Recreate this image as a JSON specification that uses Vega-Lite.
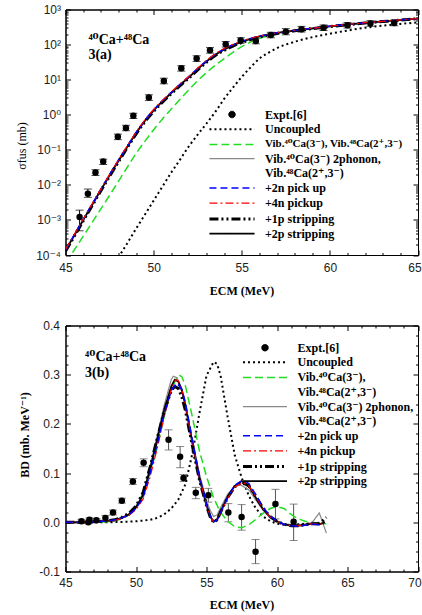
{
"$schema": "https://vega.github.io/schema/vega-lite/v6.json",
"background": "white",
"padding": {"left": 14.5, "top": 2.5, "right": 0, "bottom": 6},
"spacing": 70,
"bounds": "flush",
"config": {
  "font": "Liberation Serif, DejaVu Serif",
  "view": {"stroke": "black", "strokeWidth": 1},
  "axis": {"labelFont": "Liberation Sans, DejaVu Sans", "labelFontSize": 12, "labelColor": "#222", "titleFont": "Liberation Serif, DejaVu Serif", "titleFontSize": 12, "titleFontWeight": "bold", "titleColor": "black", "domainColor": "black", "domainWidth": 1, "tickColor": "black", "tickWidth": 1, "grid": false, "labelFlush": false, "labelOverlap": false}
},
"resolve": {"scale": {"color": "independent", "strokeDash": "independent", "strokeWidth": "independent"}, "legend": {"color": "independent", "strokeDash": "independent"}},
"datasets": {
"tp": [
{"E":45.8,"v":0.00122,"lo":0.00049,"hi":0.0019},
{"E":46.27,"v":0.0056,"lo":0.0044,"hi":0.0076},
{"E":46.7,"v":0.0224,"lo":0.0185,"hi":0.027},
{"E":47.14,"v":0.046,"lo":0.038,"hi":0.054},
{"E":47.97,"v":0.234,"lo":0.195,"hi":0.28},
{"E":48.43,"v":0.42,"lo":0.35,"hi":0.5},
{"E":48.85,"v":0.93,"lo":0.78,"hi":1.1},
{"E":49.73,"v":3.1,"lo":2.55,"hi":3.7},
{"E":50.58,"v":9.2,"lo":7.6,"hi":11},
{"E":51.57,"v":21,"lo":17.5,"hi":25},
{"E":52.44,"v":40,"lo":33,"hi":48},
{"E":53.2,"v":69,"lo":57,"hi":82},
{"E":54.09,"v":102,"lo":85,"hi":122},
{"E":54.94,"v":131,"lo":109,"hi":157},
{"E":55.8,"v":126,"lo":105,"hi":150},
{"E":56.65,"v":187,"lo":156,"hi":224},
{"E":57.5,"v":233,"lo":190,"hi":285},
{"E":58.39,"v":274,"lo":228,"hi":330},
{"E":59.64,"v":302,"lo":252,"hi":362},
{"E":61.0,"v":355,"lo":296,"hi":426},
{"E":62.3,"v":400,"lo":333,"hi":480},
{"E":63.65,"v":413,"lo":344,"hi":496}
],
"bp": [
{"E":46.13,"v":0.002,"lo":-0.002,"hi":0.006},
{"E":46.62,"v":0.0,"lo":-0.003,"hi":0.003},
{"E":46.7,"v":0.005,"lo":0.001,"hi":0.009},
{"E":47.19,"v":0.004,"lo":0.0,"hi":0.008},
{"E":47.83,"v":0.009,"lo":0.004,"hi":0.014},
{"E":48.37,"v":0.02,"lo":0.015,"hi":0.025},
{"E":49.0,"v":0.044,"lo":0.039,"hi":0.049},
{"E":49.78,"v":0.083,"lo":0.077,"hi":0.089},
{"E":50.54,"v":0.121,"lo":0.113,"hi":0.129},
{"E":52.31,"v":0.168,"lo":0.147,"hi":0.188},
{"E":53.13,"v":0.133,"lo":0.111,"hi":0.154},
{"E":53.37,"v":0.09,"lo":0.083,"hi":0.097},
{"E":54.24,"v":0.06,"lo":0.048,"hi":0.071},
{"E":55.13,"v":0.055,"lo":0.041,"hi":0.069},
{"E":56.55,"v":0.02,"lo":0.001,"hi":0.038},
{"E":57.49,"v":0.011,"lo":-0.016,"hi":0.036},
{"E":58.48,"v":-0.06,"lo":-0.084,"hi":-0.035},
{"E":59.89,"v":0.037,"lo":0.007,"hi":0.067},
{"E":61.18,"v":0.001,"lo":-0.037,"hi":0.037}
],
"tl": [
{"s":"uncoupled","E":48.15,"v":0.000112},{"s":"uncoupled","E":48.5,"v":0.000214},{"s":"uncoupled","E":49,"v":0.00056},{"s":"uncoupled","E":49.5,"v":0.0014},{"s":"uncoupled","E":50,"v":0.00355},{"s":"uncoupled","E":50.5,"v":0.0089},{"s":"uncoupled","E":51,"v":0.0224},{"s":"uncoupled","E":51.5,"v":0.0525},{"s":"uncoupled","E":52,"v":0.126},{"s":"uncoupled","E":52.5,"v":0.27},{"s":"uncoupled","E":53,"v":0.562},{"s":"uncoupled","E":53.5,"v":1.2},{"s":"uncoupled","E":54,"v":2.82},{"s":"uncoupled","E":54.5,"v":5.9},{"s":"uncoupled","E":55,"v":12},{"s":"uncoupled","E":55.5,"v":22.4},{"s":"uncoupled","E":56,"v":39.8},{"s":"uncoupled","E":56.5,"v":58},{"s":"uncoupled","E":57,"v":79.4},{"s":"uncoupled","E":58,"v":120},{"s":"uncoupled","E":59,"v":162},{"s":"uncoupled","E":60,"v":204},{"s":"uncoupled","E":61,"v":251},{"s":"uncoupled","E":62,"v":302},{"s":"uncoupled","E":63,"v":347},{"s":"uncoupled","E":64,"v":389},{"s":"uncoupled","E":65,"v":427},
{"s":"vib","E":45.4,"v":0.000117},{"s":"vib","E":46,"v":0.000339},{"s":"vib","E":46.5,"v":0.00083},{"s":"vib","E":47,"v":0.00204},{"s":"vib","E":47.5,"v":0.005},{"s":"vib","E":48,"v":0.0126},{"s":"vib","E":48.5,"v":0.0316},{"s":"vib","E":49,"v":0.0776},{"s":"vib","E":49.5,"v":0.174},{"s":"vib","E":50,"v":0.372},{"s":"vib","E":50.5,"v":0.759},{"s":"vib","E":51,"v":1.45},{"s":"vib","E":51.5,"v":2.75},{"s":"vib","E":52,"v":5.13},{"s":"vib","E":52.5,"v":9.33},{"s":"vib","E":53,"v":15.8},{"s":"vib","E":53.5,"v":25.7},{"s":"vib","E":54,"v":39.8},{"s":"vib","E":54.5,"v":60.3},{"s":"vib","E":55,"v":87.1},{"s":"vib","E":55.5,"v":117},{"s":"vib","E":56,"v":148},{"s":"vib","E":57,"v":200},{"s":"vib","E":58,"v":245},{"s":"vib","E":59,"v":285},{"s":"vib","E":60,"v":327},{"s":"vib","E":61,"v":367},{"s":"vib","E":62,"v":412},{"s":"vib","E":63,"v":452},{"s":"vib","E":64,"v":495},{"s":"vib","E":65,"v":543},
{"s":"phonon2","E":45,"v":0.000134},{"s":"phonon2","E":45.5,"v":0.00036},{"s":"phonon2","E":46,"v":0.00097},{"s":"phonon2","E":46.5,"v":0.0026},{"s":"phonon2","E":47,"v":0.007},{"s":"phonon2","E":47.5,"v":0.0184},{"s":"phonon2","E":48,"v":0.0474},{"s":"phonon2","E":48.5,"v":0.119},{"s":"phonon2","E":49,"v":0.292},{"s":"phonon2","E":49.5,"v":0.654},{"s":"phonon2","E":50,"v":1.31},{"s":"phonon2","E":50.5,"v":2.38},{"s":"phonon2","E":51,"v":4.13},{"s":"phonon2","E":51.5,"v":7.0},{"s":"phonon2","E":52,"v":11.6},{"s":"phonon2","E":52.5,"v":19.8},{"s":"phonon2","E":53,"v":32.7},{"s":"phonon2","E":53.5,"v":50.5},{"s":"phonon2","E":54,"v":71.3},{"s":"phonon2","E":54.5,"v":94},{"s":"phonon2","E":55,"v":119},{"s":"phonon2","E":55.5,"v":143.5},{"s":"phonon2","E":56,"v":168},{"s":"phonon2","E":57,"v":212},{"s":"phonon2","E":58,"v":249},{"s":"phonon2","E":59,"v":286},{"s":"phonon2","E":60,"v":328},{"s":"phonon2","E":61,"v":369},{"s":"phonon2","E":62,"v":414},{"s":"phonon2","E":63,"v":454},{"s":"phonon2","E":64,"v":498},{"s":"phonon2","E":65,"v":547},
{"s":"strip1p","E":45,"v":0.000128},{"s":"strip1p","E":45.5,"v":0.000345},{"s":"strip1p","E":46,"v":0.00093},{"s":"strip1p","E":46.5,"v":0.0025},{"s":"strip1p","E":47,"v":0.00673},{"s":"strip1p","E":47.5,"v":0.0177},{"s":"strip1p","E":48,"v":0.0455},{"s":"strip1p","E":48.5,"v":0.114},{"s":"strip1p","E":49,"v":0.28},{"s":"strip1p","E":49.5,"v":0.628},{"s":"strip1p","E":50,"v":1.25},{"s":"strip1p","E":50.5,"v":2.28},{"s":"strip1p","E":51,"v":3.96},{"s":"strip1p","E":51.5,"v":6.73},{"s":"strip1p","E":52,"v":11.1},{"s":"strip1p","E":52.5,"v":19},{"s":"strip1p","E":53,"v":31.4},{"s":"strip1p","E":53.5,"v":48.5},{"s":"strip1p","E":54,"v":68.4},{"s":"strip1p","E":54.5,"v":90.3},{"s":"strip1p","E":55,"v":114},{"s":"strip1p","E":55.5,"v":138},{"s":"strip1p","E":56,"v":163},{"s":"strip1p","E":57,"v":207},{"s":"strip1p","E":58,"v":247},{"s":"strip1p","E":59,"v":284},{"s":"strip1p","E":60,"v":326},{"s":"strip1p","E":61,"v":367},{"s":"strip1p","E":62,"v":412},{"s":"strip1p","E":63,"v":452},{"s":"strip1p","E":64,"v":496},{"s":"strip1p","E":65,"v":545},
{"s":"strip2p","E":45,"v":0.000135},{"s":"strip2p","E":45.5,"v":0.000363},{"s":"strip2p","E":46,"v":0.00098},{"s":"strip2p","E":46.5,"v":0.00263},{"s":"strip2p","E":47,"v":0.00708},{"s":"strip2p","E":47.5,"v":0.0186},{"s":"strip2p","E":48,"v":0.0479},{"s":"strip2p","E":48.5,"v":0.12},{"s":"strip2p","E":49,"v":0.295},{"s":"strip2p","E":49.5,"v":0.661},{"s":"strip2p","E":50,"v":1.32},{"s":"strip2p","E":50.5,"v":2.4},{"s":"strip2p","E":51,"v":4.17},{"s":"strip2p","E":51.5,"v":7.08},{"s":"strip2p","E":52,"v":11.7},{"s":"strip2p","E":52.5,"v":20},{"s":"strip2p","E":53,"v":33},{"s":"strip2p","E":53.5,"v":51},{"s":"strip2p","E":54,"v":72},{"s":"strip2p","E":54.5,"v":95},{"s":"strip2p","E":55,"v":120},{"s":"strip2p","E":55.5,"v":145},{"s":"strip2p","E":56,"v":170},{"s":"strip2p","E":57,"v":214},{"s":"strip2p","E":58,"v":251},{"s":"strip2p","E":59,"v":288},{"s":"strip2p","E":60,"v":331},{"s":"strip2p","E":61,"v":372},{"s":"strip2p","E":62,"v":417},{"s":"strip2p","E":63,"v":457},{"s":"strip2p","E":64,"v":501},{"s":"strip2p","E":65,"v":550},
{"s":"pick2n","E":45,"v":0.00014},{"s":"pick2n","E":45.5,"v":0.000378},{"s":"pick2n","E":46,"v":0.00102},{"s":"pick2n","E":46.5,"v":0.00274},{"s":"pick2n","E":47,"v":0.00736},{"s":"pick2n","E":47.5,"v":0.0193},{"s":"pick2n","E":48,"v":0.0498},{"s":"pick2n","E":48.5,"v":0.125},{"s":"pick2n","E":49,"v":0.307},{"s":"pick2n","E":49.5,"v":0.687},{"s":"pick2n","E":50,"v":1.37},{"s":"pick2n","E":50.5,"v":2.5},{"s":"pick2n","E":51,"v":4.34},{"s":"pick2n","E":51.5,"v":7.36},{"s":"pick2n","E":52,"v":12.2},{"s":"pick2n","E":52.5,"v":20.8},{"s":"pick2n","E":53,"v":34.3},{"s":"pick2n","E":53.5,"v":53},{"s":"pick2n","E":54,"v":74.9},{"s":"pick2n","E":54.5,"v":98.8},{"s":"pick2n","E":55,"v":124},{"s":"pick2n","E":55.5,"v":149},{"s":"pick2n","E":56,"v":173},{"s":"pick2n","E":57,"v":216},{"s":"pick2n","E":58,"v":253},{"s":"pick2n","E":59,"v":290},{"s":"pick2n","E":60,"v":333},{"s":"pick2n","E":61,"v":374},{"s":"pick2n","E":62,"v":419},{"s":"pick2n","E":63,"v":459},{"s":"pick2n","E":64,"v":503},{"s":"pick2n","E":65,"v":552},
{"s":"pick4n","E":45,"v":0.000144},{"s":"pick4n","E":45.5,"v":0.000388},{"s":"pick4n","E":46,"v":0.00105},{"s":"pick4n","E":46.5,"v":0.00281},{"s":"pick4n","E":47,"v":0.00758},{"s":"pick4n","E":47.5,"v":0.0199},{"s":"pick4n","E":48,"v":0.0513},{"s":"pick4n","E":48.5,"v":0.128},{"s":"pick4n","E":49,"v":0.316},{"s":"pick4n","E":49.5,"v":0.707},{"s":"pick4n","E":50,"v":1.41},{"s":"pick4n","E":50.5,"v":2.57},{"s":"pick4n","E":51,"v":4.46},{"s":"pick4n","E":51.5,"v":7.58},{"s":"pick4n","E":52,"v":12.5},{"s":"pick4n","E":52.5,"v":21.4},{"s":"pick4n","E":53,"v":35.3},{"s":"pick4n","E":53.5,"v":54.6},{"s":"pick4n","E":54,"v":77},{"s":"pick4n","E":54.5,"v":101},{"s":"pick4n","E":55,"v":126},{"s":"pick4n","E":55.5,"v":150},{"s":"pick4n","E":56,"v":174},{"s":"pick4n","E":57,"v":217},{"s":"pick4n","E":58,"v":254},{"s":"pick4n","E":59,"v":291},{"s":"pick4n","E":60,"v":334},{"s":"pick4n","E":61,"v":375},{"s":"pick4n","E":62,"v":420},{"s":"pick4n","E":63,"v":460},{"s":"pick4n","E":64,"v":504},{"s":"pick4n","E":65,"v":553}
],
"bl": [
{"s":"uncoupled","E":45,"v":0},{"s":"uncoupled","E":47,"v":0},{"s":"uncoupled","E":49,"v":0.0005},{"s":"uncoupled","E":50,"v":0.002},{"s":"uncoupled","E":51,"v":0.005},{"s":"uncoupled","E":51.5,"v":0.009},{"s":"uncoupled","E":52,"v":0.016},{"s":"uncoupled","E":52.5,"v":0.028},{"s":"uncoupled","E":53,"v":0.046},{"s":"uncoupled","E":53.5,"v":0.077},{"s":"uncoupled","E":54,"v":0.14},{"s":"uncoupled","E":54.5,"v":0.222},{"s":"uncoupled","E":55,"v":0.298},{"s":"uncoupled","E":55.5,"v":0.326},{"s":"uncoupled","E":55.75,"v":0.322},{"s":"uncoupled","E":56,"v":0.298},{"s":"uncoupled","E":56.5,"v":0.214},{"s":"uncoupled","E":57,"v":0.137},{"s":"uncoupled","E":57.5,"v":0.09},{"s":"uncoupled","E":58,"v":0.054},{"s":"uncoupled","E":58.5,"v":0.028},{"s":"uncoupled","E":59,"v":0.012},{"s":"uncoupled","E":59.5,"v":0.003},{"s":"uncoupled","E":60,"v":-0.003},{"s":"uncoupled","E":60.5,"v":-0.005},{"s":"uncoupled","E":61,"v":-0.005},{"s":"uncoupled","E":62,"v":-0.003},{"s":"uncoupled","E":63,"v":-0.001},{"s":"uncoupled","E":63.5,"v":0},
{"s":"vib","E":45,"v":0},{"s":"vib","E":47,"v":0},{"s":"vib","E":48,"v":0.001},{"s":"vib","E":48.5,"v":0.003},{"s":"vib","E":49,"v":0.007},{"s":"vib","E":49.5,"v":0.015},{"s":"vib","E":50,"v":0.031},{"s":"vib","E":50.5,"v":0.06},{"s":"vib","E":51,"v":0.1},{"s":"vib","E":51.5,"v":0.152},{"s":"vib","E":52,"v":0.215},{"s":"vib","E":52.5,"v":0.27},{"s":"vib","E":53,"v":0.3},{"s":"vib","E":53.25,"v":0.296},{"s":"vib","E":53.5,"v":0.278},{"s":"vib","E":54,"v":0.214},{"s":"vib","E":54.5,"v":0.145},{"s":"vib","E":55,"v":0.093},{"s":"vib","E":55.5,"v":0.05},{"s":"vib","E":56,"v":0.02},{"s":"vib","E":56.5,"v":0.002},{"s":"vib","E":57,"v":-0.009},{"s":"vib","E":57.5,"v":-0.011},{"s":"vib","E":58,"v":-0.005},{"s":"vib","E":58.5,"v":0.006},{"s":"vib","E":59,"v":0.018},{"s":"vib","E":59.5,"v":0.028},{"s":"vib","E":60,"v":0.032},{"s":"vib","E":60.5,"v":0.028},{"s":"vib","E":61,"v":0.016},{"s":"vib","E":61.5,"v":0.007},{"s":"vib","E":62,"v":0.002},{"s":"vib","E":62.5,"v":0},{"s":"vib","E":63,"v":-0.002},{"s":"vib","E":63.5,"v":-0.003},
{"s":"phonon2","E":45,"v":0},{"s":"phonon2","E":46,"v":0},{"s":"phonon2","E":47,"v":0.001},{"s":"phonon2","E":47.5,"v":0.002},{"s":"phonon2","E":48,"v":0.003},{"s":"phonon2","E":48.5,"v":0.005},{"s":"phonon2","E":49,"v":0.009},{"s":"phonon2","E":49.5,"v":0.017},{"s":"phonon2","E":50,"v":0.032},{"s":"phonon2","E":50.5,"v":0.058},{"s":"phonon2","E":51,"v":0.113},{"s":"phonon2","E":51.5,"v":0.175},{"s":"phonon2","E":52,"v":0.238},{"s":"phonon2","E":52.5,"v":0.29},{"s":"phonon2","E":52.65,"v":0.297},{"s":"phonon2","E":52.9,"v":0.294},{"s":"phonon2","E":53.25,"v":0.272},{"s":"phonon2","E":53.5,"v":0.243},{"s":"phonon2","E":54,"v":0.168},{"s":"phonon2","E":54.5,"v":0.098},{"s":"phonon2","E":55,"v":0.045},{"s":"phonon2","E":55.25,"v":0.025},{"s":"phonon2","E":55.5,"v":0.012},{"s":"phonon2","E":55.75,"v":0.015},{"s":"phonon2","E":56,"v":0.03},{"s":"phonon2","E":56.5,"v":0.057},{"s":"phonon2","E":57,"v":0.073},{"s":"phonon2","E":57.4,"v":0.076},{"s":"phonon2","E":58,"v":0.066},{"s":"phonon2","E":58.5,"v":0.045},{"s":"phonon2","E":59,"v":0.025},{"s":"phonon2","E":59.5,"v":0.01},{"s":"phonon2","E":60,"v":0.002},{"s":"phonon2","E":60.5,"v":-0.004},{"s":"phonon2","E":61,"v":-0.006},{"s":"phonon2","E":61.5,"v":-0.006},{"s":"phonon2","E":62,"v":-0.004},{"s":"phonon2","E":62.5,"v":0.0},{"s":"phonon2","E":63,"v":0.019},{"s":"phonon2","E":63.5,"v":-0.022},
{"s":"strip1p","E":45,"v":0},{"s":"strip1p","E":46,"v":0},{"s":"strip1p","E":47,"v":0.001},{"s":"strip1p","E":47.5,"v":0.002},{"s":"strip1p","E":48,"v":0.003},{"s":"strip1p","E":48.5,"v":0.005},{"s":"strip1p","E":49,"v":0.01},{"s":"strip1p","E":49.5,"v":0.018},{"s":"strip1p","E":50,"v":0.033},{"s":"strip1p","E":50.5,"v":0.06},{"s":"strip1p","E":51,"v":0.112},{"s":"strip1p","E":51.5,"v":0.17},{"s":"strip1p","E":52,"v":0.225},{"s":"strip1p","E":52.5,"v":0.268},{"s":"strip1p","E":52.75,"v":0.276},{"s":"strip1p","E":53,"v":0.272},{"s":"strip1p","E":53.25,"v":0.255},{"s":"strip1p","E":53.5,"v":0.228},{"s":"strip1p","E":54,"v":0.155},{"s":"strip1p","E":54.5,"v":0.086},{"s":"strip1p","E":55,"v":0.034},{"s":"strip1p","E":55.25,"v":0.012},{"s":"strip1p","E":55.5,"v":0.0},{"s":"strip1p","E":55.75,"v":0.005},{"s":"strip1p","E":56,"v":0.021},{"s":"strip1p","E":56.5,"v":0.05},{"s":"strip1p","E":57,"v":0.072},{"s":"strip1p","E":57.5,"v":0.082},{"s":"strip1p","E":58,"v":0.074},{"s":"strip1p","E":58.5,"v":0.052},{"s":"strip1p","E":59,"v":0.029},{"s":"strip1p","E":59.5,"v":0.012},{"s":"strip1p","E":60,"v":0.002},{"s":"strip1p","E":60.5,"v":-0.004},{"s":"strip1p","E":61,"v":-0.007},{"s":"strip1p","E":61.5,"v":-0.007},{"s":"strip1p","E":62,"v":-0.005},{"s":"strip1p","E":62.5,"v":-0.003},{"s":"strip1p","E":63,"v":-0.003},{"s":"strip1p","E":63.5,"v":0.01},
{"s":"strip2p","E":45,"v":0},{"s":"strip2p","E":46,"v":0},{"s":"strip2p","E":47,"v":0.001},{"s":"strip2p","E":47.5,"v":0.002},{"s":"strip2p","E":48,"v":0.003},{"s":"strip2p","E":48.5,"v":0.005},{"s":"strip2p","E":49,"v":0.009},{"s":"strip2p","E":49.5,"v":0.016},{"s":"strip2p","E":50,"v":0.03},{"s":"strip2p","E":50.5,"v":0.055},{"s":"strip2p","E":51,"v":0.108},{"s":"strip2p","E":51.5,"v":0.168},{"s":"strip2p","E":52,"v":0.228},{"s":"strip2p","E":52.5,"v":0.276},{"s":"strip2p","E":52.75,"v":0.29},{"s":"strip2p","E":53,"v":0.286},{"s":"strip2p","E":53.25,"v":0.268},{"s":"strip2p","E":53.5,"v":0.238},{"s":"strip2p","E":54,"v":0.16},{"s":"strip2p","E":54.5,"v":0.088},{"s":"strip2p","E":55,"v":0.035},{"s":"strip2p","E":55.25,"v":0.013},{"s":"strip2p","E":55.5,"v":0.001},{"s":"strip2p","E":55.75,"v":0.006},{"s":"strip2p","E":56,"v":0.022},{"s":"strip2p","E":56.5,"v":0.052},{"s":"strip2p","E":57,"v":0.074},{"s":"strip2p","E":57.5,"v":0.084},{"s":"strip2p","E":58,"v":0.074},{"s":"strip2p","E":58.5,"v":0.05},{"s":"strip2p","E":59,"v":0.027},{"s":"strip2p","E":59.5,"v":0.011},{"s":"strip2p","E":60,"v":0.002},{"s":"strip2p","E":60.5,"v":-0.004},{"s":"strip2p","E":61,"v":-0.007},{"s":"strip2p","E":61.5,"v":-0.007},{"s":"strip2p","E":62,"v":-0.005},{"s":"strip2p","E":62.5,"v":-0.003},{"s":"strip2p","E":63,"v":-0.004},{"s":"strip2p","E":63.4,"v":0},
{"s":"pick4n","E":45,"v":0},{"s":"pick4n","E":46,"v":0},{"s":"pick4n","E":47,"v":0.001},{"s":"pick4n","E":47.5,"v":0.002},{"s":"pick4n","E":48,"v":0.003},{"s":"pick4n","E":48.5,"v":0.004},{"s":"pick4n","E":49,"v":0.008},{"s":"pick4n","E":49.5,"v":0.014},{"s":"pick4n","E":50,"v":0.026},{"s":"pick4n","E":50.5,"v":0.047},{"s":"pick4n","E":51,"v":0.092},{"s":"pick4n","E":51.5,"v":0.15},{"s":"pick4n","E":52,"v":0.215},{"s":"pick4n","E":52.5,"v":0.27},{"s":"pick4n","E":52.8,"v":0.29},{"s":"pick4n","E":53,"v":0.288},{"s":"pick4n","E":53.25,"v":0.27},{"s":"pick4n","E":53.5,"v":0.24},{"s":"pick4n","E":54,"v":0.163},{"s":"pick4n","E":54.5,"v":0.09},{"s":"pick4n","E":55,"v":0.035},{"s":"pick4n","E":55.25,"v":0.013},{"s":"pick4n","E":55.5,"v":0.001},{"s":"pick4n","E":55.75,"v":0.005},{"s":"pick4n","E":56,"v":0.02},{"s":"pick4n","E":56.5,"v":0.049},{"s":"pick4n","E":57,"v":0.072},{"s":"pick4n","E":57.6,"v":0.081},{"s":"pick4n","E":58,"v":0.074},{"s":"pick4n","E":58.5,"v":0.052},{"s":"pick4n","E":59,"v":0.028},{"s":"pick4n","E":59.5,"v":0.011},{"s":"pick4n","E":60,"v":0.002},{"s":"pick4n","E":60.5,"v":-0.004},{"s":"pick4n","E":61,"v":-0.007},{"s":"pick4n","E":61.5,"v":-0.007},{"s":"pick4n","E":62,"v":-0.005},{"s":"pick4n","E":62.5,"v":-0.003},{"s":"pick4n","E":63,"v":-0.004},{"s":"pick4n","E":63.3,"v":-0.003},
{"s":"pick2n","E":45,"v":0},{"s":"pick2n","E":46,"v":0},{"s":"pick2n","E":47,"v":0.001},{"s":"pick2n","E":47.5,"v":0.002},{"s":"pick2n","E":48,"v":0.003},{"s":"pick2n","E":48.5,"v":0.005},{"s":"pick2n","E":49,"v":0.009},{"s":"pick2n","E":49.5,"v":0.015},{"s":"pick2n","E":50,"v":0.028},{"s":"pick2n","E":50.5,"v":0.05},{"s":"pick2n","E":51,"v":0.1},{"s":"pick2n","E":51.5,"v":0.158},{"s":"pick2n","E":52,"v":0.22},{"s":"pick2n","E":52.5,"v":0.268},{"s":"pick2n","E":52.9,"v":0.283},{"s":"pick2n","E":53.25,"v":0.27},{"s":"pick2n","E":53.5,"v":0.244},{"s":"pick2n","E":54,"v":0.168},{"s":"pick2n","E":54.5,"v":0.094},{"s":"pick2n","E":55,"v":0.037},{"s":"pick2n","E":55.25,"v":0.014},{"s":"pick2n","E":55.5,"v":0.001},{"s":"pick2n","E":55.75,"v":0.004},{"s":"pick2n","E":56,"v":0.02},{"s":"pick2n","E":56.5,"v":0.05},{"s":"pick2n","E":57,"v":0.075},{"s":"pick2n","E":57.6,"v":0.086},{"s":"pick2n","E":58,"v":0.079},{"s":"pick2n","E":58.5,"v":0.056},{"s":"pick2n","E":59,"v":0.031},{"s":"pick2n","E":59.5,"v":0.013},{"s":"pick2n","E":60,"v":0.002},{"s":"pick2n","E":60.5,"v":-0.004},{"s":"pick2n","E":61,"v":-0.007},{"s":"pick2n","E":61.5,"v":-0.008},{"s":"pick2n","E":62,"v":-0.006},{"s":"pick2n","E":62.5,"v":-0.004},{"s":"pick2n","E":63,"v":-0.005},{"s":"pick2n","E":63.3,"v":-0.004}
]
},
"vconcat": [
{
  "width": 352.5,
  "height": 245.5,
  "resolve": {"axis": {"x": "independent", "y": "independent"}},
  "layer": [
    {
      "data": {"name": "tp"},
      "mark": {"type": "rule", "color": "black", "strokeWidth": 1},
      "encoding": {
        "x": {"field": "E", "type": "quantitative", "scale": {"domain": [45, 65], "nice": false, "zero": false},
          "axis": {"orient": "bottom", "values": [45,46,47,48,49,50,51,52,53,54,55,56,57,58,59,60,61,62,63,64,65],
            "labelExpr": "datum.value % 5 === 0 ? datum.label : ''",
            "tickSize": {"condition": {"test": "datum.value % 5 === 0", "value": -5}, "value": -2.5},
            "labelOffset": {"condition": {"test": "datum.value === 65", "value": -3.5}, "value": 0},
            "labelPadding": 12.5, "title": "ECM (MeV)", "titleX": 176, "titleY": 35.5, "titleBaseline": "middle"}},
        "y": {"field": "lo", "type": "quantitative", "scale": {"type": "log", "domain": [0.0001, 1000], "nice": false},
          "axis": {"orient": "left", "values": [0.0001,0.0002,0.0003,0.0004,0.0005,0.0006,0.0007,0.0008,0.0009,0.001,0.002,0.003,0.004,0.005,0.006,0.007,0.008,0.009,0.01,0.02,0.03,0.04,0.05,0.06,0.07,0.08,0.09,0.1,0.2,0.3,0.4,0.5,0.6,0.7,0.8,0.9,1,2,3,4,5,6,7,8,9,10,20,30,40,50,60,70,80,90,100,200,300,400,500,600,700,800,900,1000],
            "labelExpr": "abs(log(datum.value)/LN10-round(log(datum.value)/LN10))>0.001?'':round(log(datum.value)/LN10)==-4?'10⁻⁴':round(log(datum.value)/LN10)==-3?'10⁻³':round(log(datum.value)/LN10)==-2?'10⁻²':round(log(datum.value)/LN10)==-1?'10⁻¹':round(log(datum.value)/LN10)==0?'10⁰':round(log(datum.value)/LN10)==1?'10¹':round(log(datum.value)/LN10)==2?'10²':'10³'",
            "tickSize": {"condition": {"test": "abs(log(datum.value)/LN10-round(log(datum.value)/LN10))<0.001", "value": -5}, "value": -2.5},
            "labelPadding": 10, "title": "σfus (mb)", "titleFontWeight": "normal", "titleX": -44, "titleY": 136, "titleBaseline": "middle"}},
        "y2": {"field": "hi"}
      }
    },
    {
      "data": {"name": "tp"},
      "mark": {"type": "tick", "orient": "horizontal", "size": 8, "thickness": 1, "color": "black"},
      "encoding": {
        "x": {"field": "E", "type": "quantitative", "axis": null},
        "y": {"field": "lo", "type": "quantitative", "scale": {"type": "log", "domain": [0.0001, 1000], "nice": false}, "axis": null}
      }
    },
    {
      "data": {"name": "tp"},
      "mark": {"type": "tick", "orient": "horizontal", "size": 8, "thickness": 1, "color": "black"},
      "encoding": {
        "x": {"field": "E", "type": "quantitative", "axis": null},
        "y": {"field": "hi", "type": "quantitative", "scale": {"type": "log", "domain": [0.0001, 1000], "nice": false}, "axis": null}
      }
    },
    {
      "data": {"name": "tl"},
      "mark": {"type": "line", "clip": true, "interpolate": "monotone", "strokeCap": "butt"},
      "encoding": {
        "x": {"field": "E", "type": "quantitative", "scale": {"domain": [45, 65], "nice": false, "zero": false}, "axis": null},
        "y": {"field": "v", "type": "quantitative", "scale": {"type": "log", "domain": [0.0001, 1000], "nice": false}, "axis": null},
        "color": {"field": "s", "type": "nominal",
          "scale": {"domain": ["expt","uncoupled","vib","vib_l2","phonon2","phonon2_l2","pick2n","pick4n","strip1p","strip2p"],
                    "range": ["black","black","#22dd22","transparent","#888888","transparent","#0000ff","#ff0000","black","black"]},
          "legend": {"orient": "none", "legendX": 159.5, "legendY": 99, "title": null, "padding": 0,
            "values": ["expt","uncoupled","vib","phonon2","phonon2_l2","pick2n","pick4n","strip1p","strip2p"],
            "symbolType": "M-4.1,0H4.1", "symbolSize": 121, "symbolStrokeWidth": 1.5, "symbolFillColor": "transparent",
            "labelFont": "Liberation Serif, DejaVu Serif", "labelFontWeight": "bold", "labelFontSize": 12, "labelColor": "black", "labelLimit": 400, "labelOffset": 26, "rowPadding": 2.2,
            "labelExpr": "datum.value==='expt'?'Expt.[6]':datum.value==='uncoupled'?'Uncoupled':datum.value==='vib'?'Vib.⁴⁰Ca(3⁻), Vib.⁴⁸Ca(2⁺,3⁻)':datum.value==='phonon2'?'Vib.⁴⁰Ca(3⁻) 2phonon,':datum.value==='phonon2_l2'?'\u00a0Vib.⁴⁸Ca(2⁺,3⁻)':datum.value==='pick2n'?'+2n pick up':datum.value==='pick4n'?'+4n pickup':datum.value==='strip1p'?'+1p stripping':'+2p stripping'",
            "encode": {
              "labels": {"update": {"fontSize": {"signal": "datum.value==='vib'?11:12"}}},
              "symbols": {"update": {
              "shape": {"signal": "datum.value==='expt'?'circle':'M-4.1,0H4.1'"},
              "size": {"signal": "datum.value==='expt'?42:121"},
              "fill": {"signal": "datum.value==='expt'?'black':'transparent'"},
              "strokeWidth": {"signal": "datum.value==='expt'?0:datum.value==='strip1p'?3:datum.value==='strip2p'?1.8:datum.value==='uncoupled'?2:(datum.value==='phonon2'||datum.value==='pick4n')?1.2:1.5"}
            }}}
          }},
        "strokeDash": {"field": "s", "type": "nominal",
          "scale": {"domain": ["expt","uncoupled","vib","vib_l2","phonon2","phonon2_l2","pick2n","pick4n","strip1p","strip2p"],
                    "range": [[1,0],[2,3],[8,4],[1,0],[1,0],[1,0],[7,4],[8,3,2,3],[9,3,2,3,2,3],[1,0]]},
          "legend": {"orient": "none", "legendX": 159.5, "legendY": 99, "title": null, "padding": 0,
            "values": ["expt","uncoupled","vib","phonon2","phonon2_l2","pick2n","pick4n","strip1p","strip2p"],
            "symbolType": "M-4.1,0H4.1", "symbolSize": 121, "symbolStrokeWidth": 1.5, "symbolFillColor": "transparent",
            "labelFont": "Liberation Serif, DejaVu Serif", "labelFontWeight": "bold", "labelFontSize": 12, "labelColor": "black", "labelLimit": 400, "labelOffset": 26, "rowPadding": 2.2,
            "labelExpr": "datum.value==='expt'?'Expt.[6]':datum.value==='uncoupled'?'Uncoupled':datum.value==='vib'?'Vib.⁴⁰Ca(3⁻), Vib.⁴⁸Ca(2⁺,3⁻)':datum.value==='phonon2'?'Vib.⁴⁰Ca(3⁻) 2phonon,':datum.value==='phonon2_l2'?'\u00a0Vib.⁴⁸Ca(2⁺,3⁻)':datum.value==='pick2n'?'+2n pick up':datum.value==='pick4n'?'+4n pickup':datum.value==='strip1p'?'+1p stripping':'+2p stripping'",
            "encode": {
              "labels": {"update": {"fontSize": {"signal": "datum.value==='vib'?11:12"}}},
              "symbols": {"update": {
              "shape": {"signal": "datum.value==='expt'?'circle':'M-4.1,0H4.1'"},
              "size": {"signal": "datum.value==='expt'?42:121"},
              "fill": {"signal": "datum.value==='expt'?'black':'transparent'"},
              "strokeWidth": {"signal": "datum.value==='expt'?0:datum.value==='strip1p'?3:datum.value==='strip2p'?1.8:datum.value==='uncoupled'?2:(datum.value==='phonon2'||datum.value==='pick4n')?1.2:1.5"}
            }}}
          }},
        "strokeWidth": {"field": "s", "type": "nominal",
          "scale": {"type": "ordinal", "domain": ["expt","uncoupled","vib","vib_l2","phonon2","phonon2_l2","pick2n","pick4n","strip1p","strip2p"],
                    "range": [1,2,1.5,1,1.2,1,1.5,1.2,3,1.8]},
          "legend": null}
      }
    },
    {
      "data": {"name": "tp"},
      "mark": {"type": "point", "filled": true, "shape": "circle", "size": 42, "color": "black", "opacity": 1},
      "encoding": {
        "x": {"field": "E", "type": "quantitative",
          "axis": {"orient": "top", "values": [45,46,47,48,49,50,51,52,53,54,55,56,57,58,59,60,61,62,63,64,65], "labels": false, "title": null,
            "tickSize": {"condition": {"test": "datum.value % 5 === 0", "value": -5}, "value": -2.5}}},
        "y": {"field": "v", "type": "quantitative", "scale": {"type": "log", "domain": [0.0001, 1000], "nice": false},
          "axis": {"orient": "right", "values": [0.0001,0.0002,0.0003,0.0004,0.0005,0.0006,0.0007,0.0008,0.0009,0.001,0.002,0.003,0.004,0.005,0.006,0.007,0.008,0.009,0.01,0.02,0.03,0.04,0.05,0.06,0.07,0.08,0.09,0.1,0.2,0.3,0.4,0.5,0.6,0.7,0.8,0.9,1,2,3,4,5,6,7,8,9,10,20,30,40,50,60,70,80,90,100,200,300,400,500,600,700,800,900,1000], "labels": false, "title": null,
            "tickSize": {"condition": {"test": "abs(log(datum.value)/LN10-round(log(datum.value)/LN10))<0.001", "value": -5}, "value": -2.5}}}
      }
    },
    {
      "data": {"values": [{}]},
      "mark": {"type": "text", "text": "⁴⁰Ca+⁴⁸Ca", "align": "left", "baseline": "alphabetic", "font": "Liberation Serif, DejaVu Serif", "fontWeight": "bold", "fontSize": 14, "color": "black"},
      "encoding": {
        "x": {"datum": 46.3, "type": "quantitative", "axis": null},
        "y": {"datum": 102, "type": "quantitative", "scale": {"type": "log", "domain": [0.0001, 1000], "nice": false}, "axis": null}
      }
    },
    {
      "data": {"values": [{}]},
      "mark": {"type": "text", "text": "3(a)", "align": "left", "baseline": "alphabetic", "font": "Liberation Serif, DejaVu Serif", "fontWeight": "bold", "fontSize": 14, "color": "black"},
      "encoding": {
        "x": {"datum": 46.3, "type": "quantitative", "axis": null},
        "y": {"datum": 38, "type": "quantitative", "scale": {"type": "log", "domain": [0.0001, 1000], "nice": false}, "axis": null}
      }
    }
  ]
},
{
  "width": 352.5,
  "height": 246,
  "resolve": {"axis": {"x": "independent", "y": "independent"}},
  "layer": [
    {
      "data": {"name": "bp"},
      "mark": {"type": "rule", "color": "#555555", "strokeWidth": 1},
      "encoding": {
        "x": {"field": "E", "type": "quantitative", "scale": {"domain": [45, 70], "nice": false, "zero": false},
          "axis": {"orient": "bottom", "values": [45,46,47,48,49,50,51,52,53,54,55,56,57,58,59,60,61,62,63,64,65,66,67,68,69,70],
            "labelExpr": "datum.value % 5 === 0 ? datum.label : ''",
            "tickSize": {"condition": {"test": "datum.value % 5 === 0", "value": -5}, "value": -2.5},
            "labelOffset": {"condition": {"test": "datum.value === 70", "value": -3.5}, "value": 0},
            "labelPadding": 11, "title": "ECM (MeV)", "titleX": 176, "titleY": 32.5, "titleBaseline": "middle"}},
        "y": {"field": "lo", "type": "quantitative", "scale": {"domain": [-0.1, 0.4], "nice": false, "zero": false},
          "axis": {"orient": "left", "values": [-0.1,-0.08,-0.06,-0.04,-0.02,0,0.02,0.04,0.06,0.08,0.1,0.12,0.14,0.16,0.18,0.2,0.22,0.24,0.26,0.28,0.3,0.32,0.34,0.36,0.38,0.4],
            "labelExpr": "abs(datum.value*10-round(datum.value*10))<0.001?replace(format(datum.value,'.1f'),'−','-'):''",
            "tickSize": {"condition": {"test": "abs(datum.value*10-round(datum.value*10))<0.001", "value": -5}, "value": -2.5},
            "labelPadding": 11, "title": "BD (mb. MeV⁻¹)", "titleX": -41.5, "titleY": 109, "titleBaseline": "middle"}},
        "y2": {"field": "hi"}
      }
    },
    {
      "data": {"name": "bp"},
      "mark": {"type": "tick", "orient": "horizontal", "size": 8, "thickness": 1, "color": "#555555"},
      "encoding": {
        "x": {"field": "E", "type": "quantitative", "axis": null},
        "y": {"field": "lo", "type": "quantitative", "axis": null}
      }
    },
    {
      "data": {"name": "bp"},
      "mark": {"type": "tick", "orient": "horizontal", "size": 8, "thickness": 1, "color": "#555555"},
      "encoding": {
        "x": {"field": "E", "type": "quantitative", "axis": null},
        "y": {"field": "hi", "type": "quantitative", "axis": null}
      }
    },
    {
      "data": {"name": "bl"},
      "mark": {"type": "line", "clip": true, "interpolate": "linear", "strokeCap": "butt"},
      "encoding": {
        "x": {"field": "E", "type": "quantitative", "scale": {"domain": [45, 70], "nice": false, "zero": false}, "axis": null},
        "y": {"field": "v", "type": "quantitative", "scale": {"domain": [-0.1, 0.4], "nice": false, "zero": false}, "axis": null},
        "color": {"field": "s", "type": "nominal",
          "scale": {"domain": ["expt","uncoupled","vib","vib_l2","phonon2","phonon2_l2","pick2n","pick4n","strip1p","strip2p"],
                    "range": ["black","black","#22dd22","transparent","#888888","transparent","#0000ff","#ff0000","black","black"]},
          "legend": {"orient": "none", "legendX": 192.5, "legendY": 16.2, "title": null, "padding": 0,
            "values": ["expt","uncoupled","vib","vib_l2","phonon2","phonon2_l2","pick2n","pick4n","strip1p","strip2p"],
            "symbolType": "M-4,0H4", "symbolSize": 121, "symbolStrokeWidth": 1.5, "symbolFillColor": "transparent",
            "labelFont": "Liberation Serif, DejaVu Serif", "labelFontWeight": "bold", "labelFontSize": 12, "labelColor": "black", "labelLimit": 400, "labelOffset": 25.5, "rowPadding": 2.1,
            "labelExpr": "datum.value==='expt'?'Expt.[6]':datum.value==='uncoupled'?'Uncoupled':datum.value==='vib'?'Vib.⁴⁰Ca(3⁻),':datum.value==='vib_l2'?'Vib.⁴⁸Ca(2⁺,3⁻)':datum.value==='phonon2'?'Vib.⁴⁰Ca(3⁻) 2phonon,':datum.value==='phonon2_l2'?'\u00a0Vib.⁴⁸Ca(2⁺,3⁻)':datum.value==='pick2n'?'+2n pick up':datum.value==='pick4n'?'+4n pickup':datum.value==='strip1p'?'+1p stripping':'+2p stripping'",
            "encode": {"symbols": {"update": {
              "shape": {"signal": "datum.value==='expt'?'circle':'M-4,0H4'"},
              "size": {"signal": "datum.value==='expt'?42:121"},
              "fill": {"signal": "datum.value==='expt'?'black':'transparent'"},
              "strokeWidth": {"signal": "datum.value==='expt'?0:datum.value==='strip1p'?3:datum.value==='strip2p'?1.8:datum.value==='uncoupled'?2:(datum.value==='phonon2'||datum.value==='pick4n')?1.2:1.5"}
            }}}
          }},
        "strokeDash": {"field": "s", "type": "nominal",
          "scale": {"domain": ["expt","uncoupled","vib","vib_l2","phonon2","phonon2_l2","pick2n","pick4n","strip1p","strip2p"],
                    "range": [[1,0],[2,3],[8,4],[1,0],[1,0],[1,0],[7,4],[8,3,2,3],[9,3,2,3,2,3],[1,0]]},
          "legend": {"orient": "none", "legendX": 192.5, "legendY": 16.2, "title": null, "padding": 0,
            "values": ["expt","uncoupled","vib","vib_l2","phonon2","phonon2_l2","pick2n","pick4n","strip1p","strip2p"],
            "symbolType": "M-4,0H4", "symbolSize": 121, "symbolStrokeWidth": 1.5, "symbolFillColor": "transparent",
            "labelFont": "Liberation Serif, DejaVu Serif", "labelFontWeight": "bold", "labelFontSize": 12, "labelColor": "black", "labelLimit": 400, "labelOffset": 25.5, "rowPadding": 2.1,
            "labelExpr": "datum.value==='expt'?'Expt.[6]':datum.value==='uncoupled'?'Uncoupled':datum.value==='vib'?'Vib.⁴⁰Ca(3⁻),':datum.value==='vib_l2'?'Vib.⁴⁸Ca(2⁺,3⁻)':datum.value==='phonon2'?'Vib.⁴⁰Ca(3⁻) 2phonon,':datum.value==='phonon2_l2'?'\u00a0Vib.⁴⁸Ca(2⁺,3⁻)':datum.value==='pick2n'?'+2n pick up':datum.value==='pick4n'?'+4n pickup':datum.value==='strip1p'?'+1p stripping':'+2p stripping'",
            "encode": {"symbols": {"update": {
              "shape": {"signal": "datum.value==='expt'?'circle':'M-4,0H4'"},
              "size": {"signal": "datum.value==='expt'?42:121"},
              "fill": {"signal": "datum.value==='expt'?'black':'transparent'"},
              "strokeWidth": {"signal": "datum.value==='expt'?0:datum.value==='strip1p'?3:datum.value==='strip2p'?1.8:datum.value==='uncoupled'?2:(datum.value==='phonon2'||datum.value==='pick4n')?1.2:1.5"}
            }}}
          }},
        "strokeWidth": {"field": "s", "type": "nominal",
          "scale": {"type": "ordinal", "domain": ["expt","uncoupled","vib","vib_l2","phonon2","phonon2_l2","pick2n","pick4n","strip1p","strip2p"],
                    "range": [1,2,1.5,1,1.2,1,1.5,1.2,3,1.8]},
          "legend": null}
      }
    },
    {
      "data": {"name": "bp"},
      "mark": {"type": "point", "filled": true, "shape": "circle", "size": 42, "color": "black", "opacity": 1},
      "encoding": {
        "x": {"field": "E", "type": "quantitative",
          "axis": {"orient": "top", "values": [45,46,47,48,49,50,51,52,53,54,55,56,57,58,59,60,61,62,63,64,65,66,67,68,69,70], "labels": false, "title": null,
            "tickSize": {"condition": {"test": "datum.value % 5 === 0", "value": -5}, "value": -2.5}}},
        "y": {"field": "v", "type": "quantitative",
          "axis": {"orient": "right", "values": [-0.1,-0.08,-0.06,-0.04,-0.02,0,0.02,0.04,0.06,0.08,0.1,0.12,0.14,0.16,0.18,0.2,0.22,0.24,0.26,0.28,0.3,0.32,0.34,0.36,0.38,0.4], "labels": false, "title": null,
            "tickSize": {"condition": {"test": "abs(datum.value*10-round(datum.value*10))<0.001", "value": -5}, "value": -2.5}}}
      }
    },
    {
      "data": {"values": [{}]},
      "mark": {"type": "text", "text": "⁴⁰Ca+⁴⁸Ca", "align": "left", "baseline": "alphabetic", "font": "Liberation Serif, DejaVu Serif", "fontWeight": "bold", "fontSize": 14, "color": "black"},
      "encoding": {
        "x": {"datum": 46.39, "type": "quantitative", "axis": null},
        "y": {"datum": 0.328, "type": "quantitative", "axis": null}
      }
    },
    {
      "data": {"values": [{}]},
      "mark": {"type": "text", "text": "3(b)", "align": "left", "baseline": "alphabetic", "font": "Liberation Serif, DejaVu Serif", "fontWeight": "bold", "fontSize": 14, "color": "black"},
      "encoding": {
        "x": {"datum": 46.39, "type": "quantitative", "axis": null},
        "y": {"datum": 0.296, "type": "quantitative", "axis": null}
      }
    }
  ]
}
]
}
